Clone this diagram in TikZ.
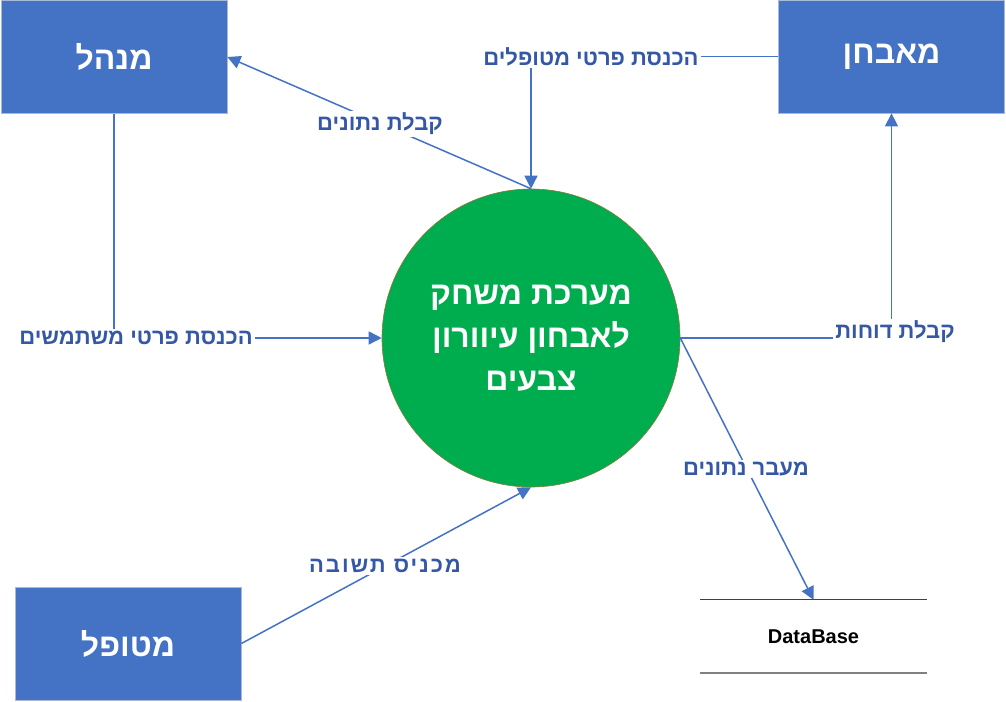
\documentclass[tikz,border=0pt]{standalone}
\usepackage{fontspec}
\usetikzlibrary{arrows.meta}
\TeXXeTstate=1
\setmainfont{Liberation Sans}
\newfontfamily\heb[Script=Hebrew]{Liberation Sans}
\definecolor{boxblue}{HTML}{4472C4}
\definecolor{boxedge}{HTML}{A9B9D9}
\definecolor{procgreen}{HTML}{00AD4E}
\definecolor{procedge}{HTML}{8A7A3A}
\definecolor{lblblue}{HTML}{3457A6}
\definecolor{dbtop}{HTML}{404040}
\definecolor{dbbot}{HTML}{808080}
\tikzset{
  entity/.style={draw=boxedge, line width=0.8pt, fill=boxblue, minimum width=226pt, minimum height=113pt, inner sep=0pt,
    text=white, font=\heb\bfseries\fontsize{32}{38}\selectfont},
  proc/.style={circle, draw=procedge, line width=0.6pt, fill=procgreen, minimum size=298pt, inner sep=0pt,
    text=white, align=center, font=\heb\bfseries\fontsize{32}{43}\selectfont},
  flow/.style={draw=boxblue, line width=1.5pt, -{Triangle[length=13pt,width=13pt]}},
  lbl/.style={fill=white, text=lblblue, inner sep=2pt, font=\heb\bfseries\fontsize{22}{25}\selectfont},
}
\begin{document}
\begin{tikzpicture}[x=1pt,y=-1pt]
\useasboundingbox (0,0) rectangle (1006,701);
% entities
\node[entity] (mgr) at (114,57) {\beginR מנהל\endR};
\node[entity] (diag) at (891.5,56.5) {\beginR מאבחן\endR};
\node[entity] (pat) at (128,643.5) {\beginR מטופל\endR};
% process
\node[proc] (sys) at (531,338) {\beginR מערכת משחק\endR\\\beginR לאבחון עיוורון\endR\\\beginR צבעים\endR};
% data store
\node[minimum width=227pt, minimum height=73pt, inner sep=0pt, font=\bfseries\fontsize{20}{24}\selectfont] (db) at (813.5,636.5) {DataBase};
\draw[dbtop, line width=1pt] (db.north west) -- (db.north east);
\draw[dbbot, line width=2pt] (db.south west) -- (db.south east);
% flows
\draw[flow] (sys.north) -- (mgr.east);
\draw[flow] (diag.west) -| (sys.north);
\draw[flow] (mgr.south) |- (sys.west);
\draw[flow] (sys.east) -| (diag.south);
\draw[flow] (sys.east) -- (db.north);
\draw[flow] (pat.east) -- (sys.south);
% labels
\node[lbl] (l1) at (380,124) {\beginR קבלת נתונים\endR};
\node[lbl] (l2) at (591,57) {\beginR הכנסת פרטי מטופלים\endR};
\node[lbl] (l3) at (136,338) {\beginR הכנסת פרטי משתמשים\endR};
\node[lbl] (l4) at (895,332) {\beginR קבלת דוחות\endR};
\node[lbl] (l5) at (746,469) {\beginR מעבר נתונים\endR};
\node[lbl] (l6) at (385,566) {\addfontfeature{LetterSpace=9}\beginR מכניס תשובה\endR};
\end{tikzpicture}
\end{document}
